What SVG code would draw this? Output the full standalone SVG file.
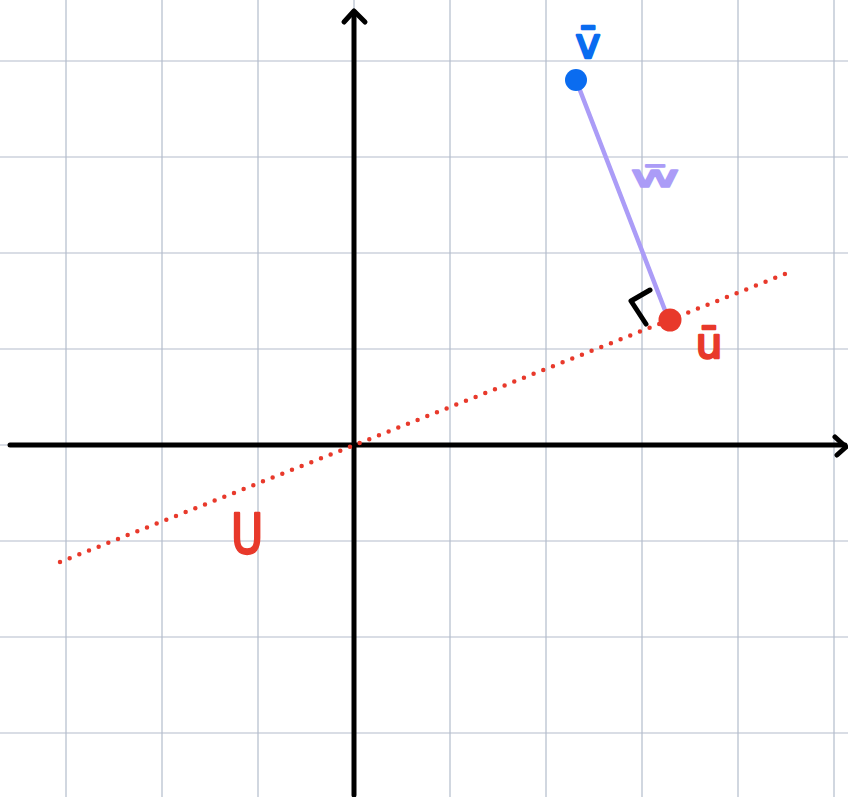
<svg xmlns="http://www.w3.org/2000/svg" width="848" height="797" viewBox="0 0 848 797">
<style>
.grid line{stroke:#b3bccb;stroke-width:1.2}
.axis{stroke:#000;stroke-width:5;fill:none;stroke-linecap:round;stroke-linejoin:round}
.lbl{font-family:"DejaVu Sans",sans-serif;stroke-linejoin:round;stroke-linecap:round}
</style>
<rect width="848" height="797" fill="#fff"/>
<g class="grid">
<line x1="66" y1="0" x2="66" y2="797"/><line x1="162" y1="0" x2="162" y2="797"/><line x1="258" y1="0" x2="258" y2="797"/><line x1="354" y1="0" x2="354" y2="797"/><line x1="450" y1="0" x2="450" y2="797"/><line x1="546" y1="0" x2="546" y2="797"/><line x1="642" y1="0" x2="642" y2="797"/><line x1="738" y1="0" x2="738" y2="797"/><line x1="834" y1="0" x2="834" y2="797"/>
<line x1="0" y1="61" x2="848" y2="61"/><line x1="0" y1="157" x2="848" y2="157"/><line x1="0" y1="253" x2="848" y2="253"/><line x1="0" y1="349" x2="848" y2="349"/><line x1="0" y1="445" x2="848" y2="445"/><line x1="0" y1="541" x2="848" y2="541"/><line x1="0" y1="637" x2="848" y2="637"/><line x1="0" y1="733" x2="848" y2="733"/>
</g>
<g id="connectors">
<g id="x-axis"><line class="axis" x1="10" y1="445" x2="845" y2="445"/><polyline class="axis" points="835,437 846,447 837,455"/></g>
<g id="y-axis"><line class="axis" x1="354" y1="795" x2="354" y2="12"/><polyline class="axis" points="344,22 354,11 365,22"/></g>
<line id="line-U" x1="60" y1="562" x2="790" y2="272" stroke="#e8392b" stroke-width="4.5" stroke-linecap="round" stroke-dasharray="0 10.4"/>
<line id="w" x1="576" y1="80" x2="668" y2="318" stroke="#ab9cf7" stroke-width="4.5" stroke-linecap="round"/>
<polyline id="right-angle" points="650,290 631,301 646,324" fill="none" stroke="#000" stroke-width="5" stroke-linecap="round" stroke-linejoin="round"/>
</g>
<g id="node-v">
<circle cx="576" cy="80" r="11" fill="#0a6cf0"/>
<text class="lbl" x="588" y="58" font-size="42" text-anchor="middle" fill="#0a6cf0" stroke="#0a6cf0" stroke-width="2.5">v̄</text>
</g>
<g id="node-u">
<circle cx="670" cy="320" r="11.5" fill="#e8392b"/>
<text class="lbl" x="709" y="358" font-size="42" text-anchor="middle" fill="#e8392b" stroke="#e8392b" stroke-width="2.5">ū</text>
</g>
<g id="label-w">
<text class="lbl" transform="translate(655,187) scale(2,1)" x="0" y="0" font-size="30" text-anchor="middle" fill="#ab9cf7" stroke="#ab9cf7" stroke-width="1.5">w̄</text>
</g>
<g id="label-U">
<text class="lbl" transform="translate(247,553) scale(0.8,1)" x="0" y="0" font-size="55" text-anchor="middle" fill="#e8392b" stroke="#e8392b" stroke-width="2.5">U</text>
</g>
</svg>
